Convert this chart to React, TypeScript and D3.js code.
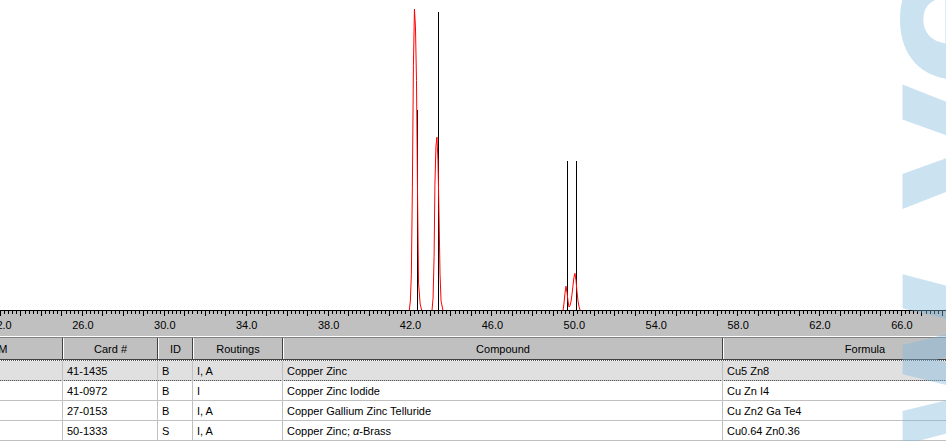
import React, { useEffect, useRef } from "react";
import * as d3 from "d3";

// measured pattern (red), 2-theta / relative intensity
const scanPeaks: [number, number][][] = [
  [[41.99, 0], [42.04, 3], [42.09, 12], [42.14, 41], [42.19, 82], [42.24, 101], [42.29, 95], [42.34, 77], [42.39, 40], [42.44, 9], [42.52, 2], [42.59, 0]],
  [[43.10, 0], [43.15, 4], [43.20, 18], [43.24, 42], [43.29, 55], [43.34, 58], [43.39, 50], [43.44, 32], [43.49, 12], [43.54, 3], [43.63, 0]],
  [[49.50, 0], [49.54, 2], [49.59, 5.5], [49.64, 8], [49.69, 6], [49.74, 3], [49.79, 1], [49.84, 1.5], [49.89, 3], [49.93, 5], [49.98, 8], [50.03, 11], [50.08, 12.3], [50.13, 10], [50.18, 6], [50.23, 3], [50.28, 1], [50.33, 0]],
];

// reference card sticks (black)
const stickAngles = [42.37, 43.39, 49.69, 50.13];
const stickHeights = [67, 100, 50, 50];

const tickLabels = [22, 26, 30, 34, 38, 42, 46, 50, 54, 58, 62, 66];

const headers = ["FOM", "Card #", "ID", "Routings", "Compound", "Formula"];
const cardNumbers = ["41-1435", "41-0972", "27-0153", "50-1333"];
const ids = ["B", "B", "B", "S"];
const routings = ["I, A", "I", "I, A", "I, A"];
const compounds = ["Copper Zinc", "Copper Zinc Iodide", "Copper Gallium Zinc Telluride", "Copper Zinc; α-Brass"];
const formulas = ["Cu5 Zn8", "Cu Zn I4", "Cu Zn2 Ga Te4", "Cu0.64 Zn0.36"];

const watermarkLetters = ["w", "v", "e"];

export default function App() {
  const ref = useRef<SVGSVGElement>(null);

  useEffect(() => {
    const width = 946;
    const height = 441;
    const base = 310;
    const font = "'Liberation Sans', Arial, sans-serif";

    const svg = d3.select(ref.current);
    svg.selectAll("*").remove();
    svg.attr("width", width).attr("height", height);

    svg.append("rect").attr("width", width).attr("height", height).attr("fill", "#fff");

    const x = d3.scaleLinear().domain([22, 68.2]).range([0, width]);
    const y = d3.scaleLinear().domain([0, 100]).range([base, 12]);

    // sticks
    svg.selectAll("line.stick")
      .data(stickAngles)
      .enter()
      .append("line")
      .attr("class", "stick")
      .attr("x1", d => Math.round(x(d)) + 0.5)
      .attr("x2", d => Math.round(x(d)) + 0.5)
      .attr("y1", base)
      .attr("y2", (d, i) => y(stickHeights[i]))
      .attr("stroke", "#000")
      .attr("shape-rendering", "crispEdges");

    const line = d3.line<[number, number]>().x(d => x(d[0])).y(d => y(d[1]));
    svg.selectAll("path.scan")
      .data(scanPeaks)
      .enter()
      .append("path")
      .attr("class", "scan")
      .attr("d", d => line(d))
      .attr("fill", "none")
      .attr("stroke", "#ff0000")
      .attr("stroke-width", 1);

    // ruler
    svg.append("rect").attr("x", 0).attr("y", base).attr("width", width).attr("height", 26).attr("fill", "#c0c0c0");
    svg.append("line").attr("x1", 0).attr("x2", width).attr("y1", base + 0.5).attr("y2", base + 0.5)
      .attr("stroke", "#000").attr("shape-rendering", "crispEdges");
    const minor = d3.range(22, 68.3, 0.2);
    svg.append("g").selectAll("line")
      .data(minor)
      .enter()
      .append("line")
      .attr("x1", d => Math.round(x(d)) + 0.5)
      .attr("x2", d => Math.round(x(d)) + 0.5)
      .attr("y1", base)
      .attr("y2", d => base + (Math.abs(d - Math.round(d)) < 0.01 ? 6 : 4))
      .attr("stroke", "#000")
      .attr("shape-rendering", "crispEdges");
    svg.append("g").selectAll("text")
      .data(tickLabels)
      .enter()
      .append("text")
      .attr("x", d => x(d) + 1)
      .attr("y", base + 19)
      .attr("text-anchor", "middle")
      .attr("font-family", font)
      .attr("font-size", 11)
      .attr("fill", "#000")
      .text(d => d.toFixed(1));

    // separator between ruler and table
    svg.append("rect").attr("x", 0).attr("y", 336).attr("width", width).attr("height", 1).attr("fill", "#fff");
    svg.append("rect").attr("x", 0).attr("y", 337).attr("width", width).attr("height", 1).attr("fill", "#808080");

    // table
    const colEdges = [-60, 63, 158, 193, 283, 723, 1007];
    const headTop = 338;
    const headH = 22;
    const rowTop = headTop + headH + 1;
    const rowH = 20;

    svg.append("rect").attr("x", 0).attr("y", headTop).attr("width", width).attr("height", headH).attr("fill", "#c0c0c0");
    headers.forEach((h, i) => {
      const x0 = colEdges[i];
      const x1 = colEdges[i + 1];
      svg.append("line").attr("x1", x0 + 0.5).attr("x2", x0 + 0.5).attr("y1", headTop).attr("y2", headTop + headH)
        .attr("stroke", "#fff").attr("shape-rendering", "crispEdges");
      svg.append("line").attr("x1", x1 - 0.5).attr("x2", x1 - 0.5).attr("y1", headTop).attr("y2", headTop + headH)
        .attr("stroke", "#404040").attr("shape-rendering", "crispEdges");
      svg.append("text")
        .attr("x", i === 5 ? 865 : (x0 + x1) / 2)
        .attr("y", headTop + 15)
        .attr("text-anchor", i === 0 ? "end" : "middle")
        .attr("dx", i === 0 ? 6 : 0)
        .attr("font-family", font)
        .attr("font-size", 11)
        .text(h);
    });
    svg.append("line").attr("x1", 0).attr("x2", width).attr("y1", headTop + headH - 0.5).attr("y2", headTop + headH - 0.5)
      .attr("stroke", "#404040").attr("shape-rendering", "crispEdges");

    const columns = [cardNumbers, ids, routings, compounds, formulas];
    cardNumbers.forEach((_, r) => {
      const ry = rowTop + r * rowH;
      svg.append("rect").attr("x", 0).attr("y", ry).attr("width", width).attr("height", rowH - 1)
        .attr("fill", r === 0 ? "#e0e0e0" : "#fff");
      svg.append("line").attr("x1", 0).attr("x2", width).attr("y1", ry + rowH - 0.5).attr("y2", ry + rowH - 0.5)
        .attr("stroke", "#c0c0c0").attr("shape-rendering", "crispEdges");
      if (r === 0) {
        svg.append("rect").attr("x", -1).attr("y", ry - 0.5).attr("width", width + 2).attr("height", rowH)
          .attr("fill", "none").attr("stroke", "#555").attr("stroke-dasharray", "1,1").attr("shape-rendering", "crispEdges");
      }
      colEdges.slice(1, 6).forEach(cx => {
        svg.append("line").attr("x1", cx - 0.5).attr("x2", cx - 0.5).attr("y1", ry).attr("y2", ry + rowH)
          .attr("stroke", "#c0c0c0").attr("shape-rendering", "crispEdges");
      });
      columns.forEach((col, c) => {
        const t = svg.append("text")
          .attr("x", colEdges[c + 1] + 4)
          .attr("y", ry + 14)
          .attr("font-family", font)
          .attr("font-size", 11)
          .attr("fill", "#000");
        const s = col[r];
        if (s.includes("α")) {
          const [a, b] = s.split("α");
          t.append("tspan").text(a);
          t.append("tspan").attr("font-style", "italic").text("α");
          t.append("tspan").text(b);
        } else {
          t.text(s);
        }
      });
    });

    // watermark on the right edge
    const wmStarts = [452, 212, 88];
    watermarkLetters.forEach((ch, i) => {
      svg.append("text")
        .attr("transform", `translate(1012,${wmStarts[i]}) rotate(-90)`)
        .attr("font-family", "'DejaVu Sans', sans-serif")
        .attr("font-weight", "bold")
        .attr("font-size", 200)
        .attr("fill", "#7fb8de")
        .attr("opacity", 0.4)
        .text(ch);
    });
  }, []);

  return <svg ref={ref} style={{ position: "fixed", left: 0, top: 0, display: "block" }}></svg>;
}
